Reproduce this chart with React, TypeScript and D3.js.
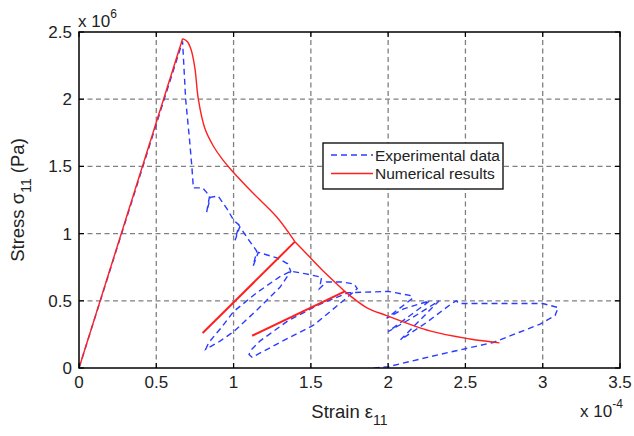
import React, { useRef, useEffect } from 'react';
import * as d3 from 'd3';

// axis ticks (strain in 1e-4, stress in 1e6 Pa)
const xTicks = [0, 0.5, 1, 1.5, 2, 2.5, 3, 3.5];
const yTicks = [0, 0.5, 1, 1.5, 2, 2.5];

// numerical results (red): loading line, softening envelope, two unload/reload branches
const loadStrain = [0, 0.67];
const loadStress = [0, 2.45];
const envStrain = [0.67, 0.70, 0.725, 0.75, 0.772, 0.815, 0.87, 0.923, 0.988, 1.127, 1.278, 1.397, 1.48, 1.578, 1.72, 1.86, 1.99, 2.27, 2.53, 2.72];
const envStress = [2.45, 2.43, 2.37, 2.23, 2.0, 1.78, 1.65, 1.56, 1.47, 1.30, 1.125, 0.94, 0.84, 0.724, 0.57, 0.45, 0.39, 0.276, 0.216, 0.187];
const unloadStrain = [[1.397, 0.80], [1.72, 1.12]];
const unloadStress = [[0.94, 0.26], [0.57, 0.24]];

// experimental data (blue dashed)
const expStrain = [0, 0.67, 0.69, 0.715, 0.73, 0.74, 0.80, 0.845, 0.826, 0.85, 0.90, 0.96, 1.00, 1.035, 1.01, 1.04,
  1.10, 1.15, 1.127, 1.16, 1.19, 1.28, 1.35, 1.37,
  1.30, 1.15, 1.00, 0.90, 0.82, 0.84, 0.92, 1.00, 1.15, 1.30, 1.37,
  1.47, 1.57, 1.555, 1.60, 1.70, 1.78, 1.80,
  1.73, 1.52, 1.30, 1.12, 1.10, 1.11, 1.17, 1.35, 1.55, 1.74,
  2.00, 2.14, 2.16, 1.99, 2.10, 2.27, 2.00, 2.15, 2.33, 2.08, 2.25, 2.40, 2.44, 2.46,
  2.70, 3.00, 3.10, 3.08, 2.98, 2.68, 2.33, 2.00, 1.82];
const expStress = [0, 2.43, 2.0, 1.70, 1.50, 1.34, 1.34, 1.28, 1.16, 1.27, 1.28, 1.18, 1.10, 1.065, 0.95, 1.05,
  0.95, 0.87, 0.76, 0.86, 0.85, 0.82, 0.775, 0.72,
  0.60, 0.43, 0.27, 0.19, 0.14, 0.19, 0.30, 0.42, 0.56, 0.68, 0.72,
  0.70, 0.675, 0.59, 0.64, 0.64, 0.625, 0.59,
  0.52, 0.32, 0.19, 0.08, 0.10, 0.13, 0.20, 0.35, 0.47, 0.56,
  0.57, 0.54, 0.52, 0.37, 0.44, 0.50, 0.27, 0.37, 0.50, 0.21, 0.34, 0.47, 0.50, 0.48,
  0.48, 0.48, 0.45, 0.39, 0.325, 0.19, 0.10, 0.01, -0.01];

const legendLabels = ['Experimental data', 'Numerical results'];

const FONT = '"Liberation Sans", Arial, Helvetica, sans-serif';
const BLUE = '#2a3cff';
const RED = '#ff1f1f';

const App: React.FC = () => {
  const svgRef = useRef<SVGSVGElement | null>(null);
  const width = 634;
  const height = 436;

  useEffect(() => {
    if (!svgRef.current) return;
    const svg = d3.select(svgRef.current);
    svg.selectAll('*').remove();

    const margin = { top: 32, right: 14, bottom: 68, left: 79 };
    const x = d3.scaleLinear().domain([0, 3.5]).range([margin.left, width - margin.right]);
    const y = d3.scaleLinear().domain([0, 2.5]).range([height - margin.bottom, margin.top]);

    svg.append('rect').attr('width', width).attr('height', height).attr('fill', '#fff');

    svg.append('clipPath').attr('id', 'plot-clip')
      .append('rect')
      .attr('x', x(0)).attr('y', y(2.5))
      .attr('width', x(3.5) - x(0)).attr('height', y(0) - y(2.5));

    // grid
    const grid = svg.append('g').attr('stroke', '#808080').attr('stroke-width', 1.3).attr('stroke-dasharray', '5,3.5');
    xTicks.slice(1, -1).forEach(t => {
      grid.append('line').attr('x1', x(t)).attr('x2', x(t)).attr('y1', y(0)).attr('y2', y(2.5));
    });
    yTicks.slice(1, -1).forEach(t => {
      grid.append('line').attr('x1', x(0)).attr('x2', x(3.5)).attr('y1', y(t)).attr('y2', y(t));
    });

    const plot = svg.append('g').attr('clip-path', 'url(#plot-clip)');

    const pts = (xs: number[], ys: number[]) => xs.map((v, i) => [x(v), y(ys[i])] as [number, number]);
    const straight = d3.line();
    const smooth = d3.line().curve(d3.curveCatmullRom.alpha(0.5));

    plot.append('path')
      .attr('d', straight(pts(expStrain, expStress)))
      .attr('fill', 'none')
      .attr('stroke', BLUE)
      .attr('stroke-width', 1.4)
      .attr('stroke-dasharray', '6,4');

    const red = plot.append('g').attr('fill', 'none').attr('stroke', RED)
      .attr('stroke-width', 1.4).attr('stroke-linejoin', 'round');
    red.append('path').attr('d', straight(pts(loadStrain, loadStress)));
    red.append('path').attr('d', smooth(pts(envStrain.slice(0, 12), envStress.slice(0, 12))));
    red.append('path').attr('d', smooth(pts(envStrain.slice(11, 15), envStress.slice(11, 15))));
    red.append('path').attr('d', smooth(pts(envStrain.slice(14), envStress.slice(14))));
    unloadStrain.forEach((xs, k) => {
      red.append('path').attr('d', straight(pts(xs, unloadStress[k]))).attr('stroke-width', 2);
    });

    // box + ticks
    svg.append('rect')
      .attr('x', x(0)).attr('y', y(2.5))
      .attr('width', x(3.5) - x(0)).attr('height', y(0) - y(2.5))
      .attr('fill', 'none').attr('stroke', '#000').attr('stroke-width', 1.5);
    const ticks = svg.append('g').attr('stroke', '#000').attr('stroke-width', 1.2);
    xTicks.forEach(t => {
      ticks.append('line').attr('x1', x(t)).attr('x2', x(t)).attr('y1', y(0)).attr('y2', y(0) - 5);
      ticks.append('line').attr('x1', x(t)).attr('x2', x(t)).attr('y1', y(2.5)).attr('y2', y(2.5) + 5);
    });
    yTicks.forEach(t => {
      ticks.append('line').attr('x1', x(0)).attr('x2', x(0) + 5).attr('y1', y(t)).attr('y2', y(t));
      ticks.append('line').attr('x1', x(3.5)).attr('x2', x(3.5) - 5).attr('y1', y(t)).attr('y2', y(t));
    });

    // tick labels
    const labels = svg.append('g').attr('font-family', FONT).attr('font-size', 17).attr('fill', '#222');
    xTicks.forEach(t => {
      labels.append('text').attr('x', x(t)).attr('y', y(0) + 20)
        .attr('text-anchor', 'middle').text(String(t));
    });
    yTicks.forEach(t => {
      labels.append('text').attr('x', x(0) - 7).attr('y', y(t) + 6)
        .attr('text-anchor', 'end').text(String(t));
    });

    // exponent labels
    const e6 = labels.append('text').attr('x', x(0) - 1).attr('y', y(2.5) - 5);
    e6.append('tspan').text('x 10');
    e6.append('tspan').attr('font-size', 12).attr('dy', -9).text('6');
    const e4 = labels.append('text').attr('x', 580).attr('y', 417);
    e4.append('tspan').text('x 10');
    e4.append('tspan').attr('font-size', 12).attr('dy', -9).text('-4');

    // axis titles
    const xt = svg.append('text').attr('font-family', FONT).attr('font-size', 18.5).attr('fill', '#222')
      .attr('x', (x(0) + x(3.5)) / 2).attr('y', 418).attr('text-anchor', 'middle');
    xt.append('tspan').text('Strain ε');
    xt.append('tspan').attr('font-size', 14).attr('dy', 7).text('11');

    const yt = svg.append('text').attr('font-family', FONT).attr('font-size', 18.5).attr('fill', '#222')
      .attr('transform', `translate(24, ${(y(0) + y(2.5)) / 2}) rotate(-90)`)
      .attr('text-anchor', 'middle');
    yt.append('tspan').text('Stress σ');
    yt.append('tspan').attr('font-size', 14).attr('dy', 7).text('11');
    yt.append('tspan').attr('dy', -7).text(' (Pa)');

    // legend
    const lg = svg.append('g').attr('transform', 'translate(323, 143)');
    lg.append('rect').attr('width', 180).attr('height', 46)
      .attr('fill', '#fff').attr('stroke', '#000').attr('stroke-width', 1.3);
    const colors = [BLUE, RED];
    legendLabels.forEach((lab, i) => {
      const ly = 12 + i * 18.5;
      lg.append('line').attr('x1', 8).attr('x2', 50).attr('y1', ly).attr('y2', ly)
        .attr('stroke', colors[i]).attr('stroke-width', 1.4)
        .attr('stroke-dasharray', i === 0 ? '6,4' : null);
      lg.append('text').attr('x', 52).attr('y', ly + 5.5)
        .attr('font-family', FONT).attr('font-size', 15.5).attr('fill', '#222').text(lab);
    });
  }, []);

  return (
    <svg ref={svgRef} width={width} height={height}
      style={{ position: 'absolute', left: 0, top: 0 }}></svg>
  );
};

export default App;
